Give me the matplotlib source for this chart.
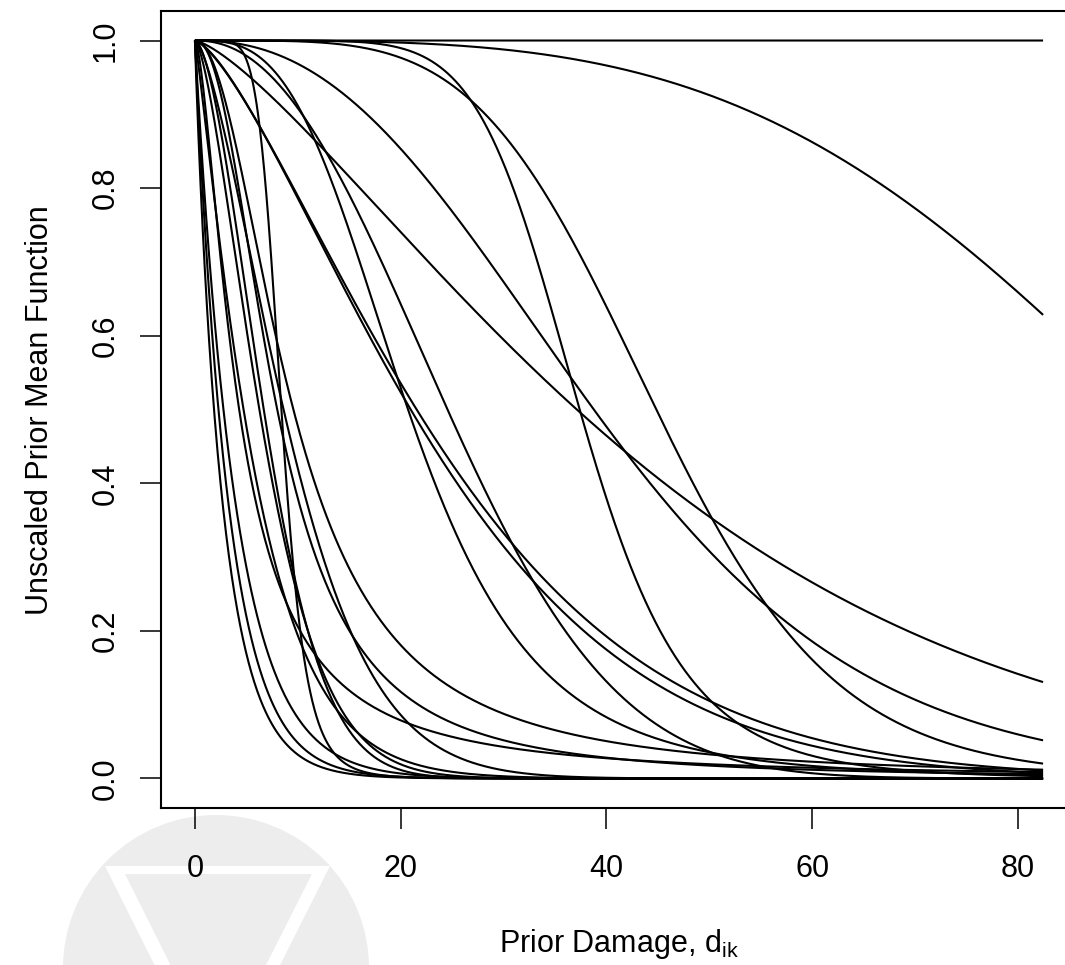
import numpy as np
import matplotlib

matplotlib.use("Agg")
import matplotlib.pyplot as plt  # noqa: E402
from matplotlib.patches import Circle, Polygon  # noqa: E402

plt.rcParams["font.family"] = ["Liberation Sans", "DejaVu Sans"]
plt.rcParams["mathtext.fontset"] = "custom"
plt.rcParams["mathtext.rm"] = "Liberation Sans"
plt.rcParams["mathtext.it"] = "Liberation Sans"

D_MAX = 82.45

# Per-curve parameters of the prior mean function
#   f(d) = (1 + c (d / scale)^shape)^(-1/c),  c = 0 -> exp(-(d / scale)^shape)
# slow / upper curves
scales = [np.inf, 102.0, 48.7, 43.7, 46.8, 37.4,
          # middle group
          21.5, 27.1, 28.0, 29.0,
          # fast group
          2.73, 3.3, 4.0, 4.3, 6.5, 8.0, 8.3, 8.0, 11.0, 8.4, 9.57]
shapes = [1.0, 3.6, 1.35, 2.33, 4.4, 7.3,
          3.07, 1.43, 1.40, 2.2,
          0.95, 1.0, 1.0, 1.6, 1.15, 1.5, 1.7, 2.2, 1.5, 7.0, 2.05]
tails = [0.0, 0.0, 0.0, 0.25, 0.5, 1.0,
         0.7, 0.0, 0.0, 0.0,
         0.0, 0.0, 0.0, 1.0, 0.0, 0.0, 0.0, 1.0, 0.0, 1.0, 1.0]

x_ticks = [0, 20, 40, 60, 80]
y_ticks = [0.0, 0.2, 0.4, 0.6, 0.8, 1.0]


def prior_mean(d, scale, shape, c):
    z = (d / scale) ** shape
    if c == 0:
        return np.exp(-z)
    return (1.0 + c * z) ** (-1.0 / c)


fig = plt.figure(figsize=(10.65, 9.65), dpi=100)

# faint logo behind everything, in pixel coordinates
bg = fig.add_axes([0, 0, 1, 1], zorder=-1)
bg.set_xlim(0, 1065)
bg.set_ylim(965, 0)
bg.axis("off")
bg.add_patch(Circle((216, 968), 153, color="#ededed", lw=0))
bg.add_patch(Polygon([(105, 866), (330, 866), (217, 1090)], closed=True,
                     color="white", lw=0))
bg.add_patch(Polygon([(125, 874), (312, 874), (218, 1060)], closed=True,
                     color="#ededed", lw=0))

ax = fig.add_axes([161 / 1065, 157 / 965, 916 / 1065, 797 / 965])
ax.patch.set_alpha(0)

d = np.linspace(0, D_MAX, 1200)
for scale, shape, c in zip(scales, shapes, tails):
    ax.plot(d, prior_mean(d, scale, shape, c), color="black", lw=1.5,
            solid_capstyle="butt")

ax.set_xlim(-0.04 * D_MAX, 1.04 * D_MAX)
ax.set_ylim(-0.04, 1.04)
ax.set_xticks(x_ticks)
ax.set_xticklabels([str(t) for t in x_ticks])
ax.set_yticks(y_ticks)
ax.set_yticklabels([f"{t:.1f}" for t in y_ticks], rotation=90, va="center")
ax.tick_params(axis="both", length=15, width=1.1, labelsize=22, color="black")
ax.tick_params(axis="x", pad=18)
ax.tick_params(axis="y", pad=14)
for spine in ax.spines.values():
    spine.set_linewidth(1.5)

fig.text(40 / 1065, 1 - 410 / 965, "Unscaled Prior Mean Function",
         rotation=90, ha="center", va="center", fontsize=22)
fig.text(619 / 1065, 1 - 944 / 965, r"Prior Damage, d$_\mathrm{ik}$",
         ha="center", va="center", fontsize=22)

fig.savefig("out.png", dpi=100)
